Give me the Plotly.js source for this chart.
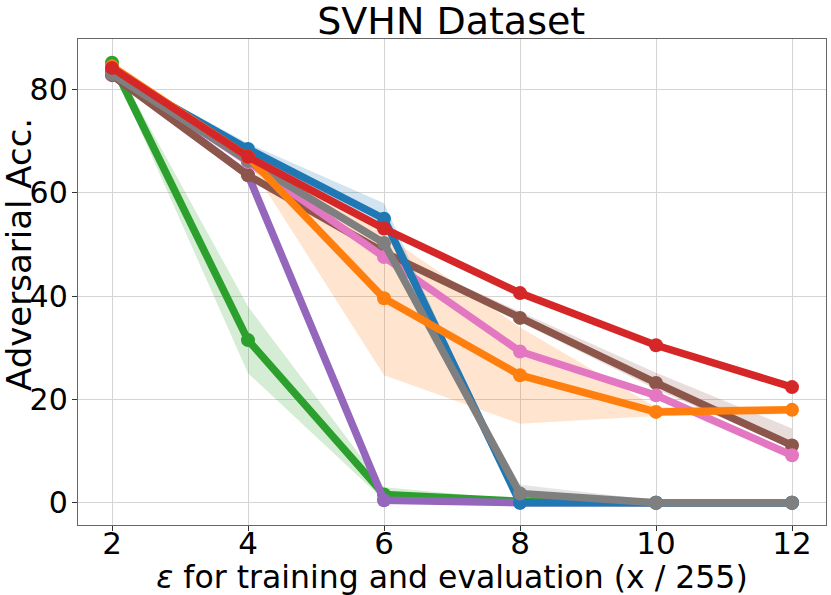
<!DOCTYPE html>
<html>
<head>
<meta charset="utf-8">
<script src="https://cdn.plot.ly/plotly-3.0.1.min.js"></script>
<style>
  html, body { margin: 0; padding: 0; background: #fff; }
  #chart { width: 831px; height: 595px; }
</style>
</head>
<body>
<div id="chart"></div>
<script>
// epsilon values (x / 255)
const eps = [2, 4, 6, 8, 10, 12];

// mean adversarial accuracy per method
const blueAcc   = [83.3, 68.5, 55.0, 0.0, 0.0, 0.0];
const orangeAcc = [84.5, 67.0, 39.6, 24.7, 17.6, 18.0];
const greenAcc  = [85.2, 31.5, 1.6, 0.3, 0.0, 0.0];
const redAcc    = [84.2, 67.0, 53.1, 40.6, 30.5, 22.4];
const purpleAcc = [83.0, 63.5, 0.5, 0.0, 0.0, 0.0];
const brownAcc  = [82.8, 63.4, 48.5, 35.8, 23.2, 11.1];
const pinkAcc   = [83.5, 66.0, 47.6, 29.3, 20.8, 9.2];
const grayAcc   = [83.0, 66.2, 50.3, 1.8, 0.0, 0.0];

// shaded band bounds (lower / upper)
const blueLo   = [82.8, 67.5, 53.0, 0.0, 0.0, 0.0];
const blueHi   = [83.8, 69.6, 58.0, 0.3, 0.0, 0.0];
const orangeLo = [84.0, 66.0, 24.7, 15.3, 16.8, 17.2];
const orangeHi = [85.0, 68.0, 52.0, 34.0, 18.5, 18.8];
const greenLo  = [84.5, 25.1, 0.5, 0.0, 0.0, 0.0];
const greenHi  = [86.0, 38.0, 3.0, 0.6, 0.0, 0.0];
const redLo    = [83.8, 66.5, 52.6, 40.1, 30.0, 21.9];
const redHi    = [84.6, 67.5, 53.6, 41.1, 31.0, 22.9];
const purpleLo = [82.6, 63.0, 0.2, 0.0, 0.0, 0.0];
const purpleHi = [83.4, 64.0, 0.8, 0.2, 0.0, 0.0];
const brownLo  = [82.4, 63.0, 48.0, 35.0, 22.0, 10.5];
const brownHi  = [83.2, 63.8, 49.0, 37.0, 25.2, 14.4];
const pinkLo   = [83.1, 65.5, 47.1, 28.8, 20.3, 8.5];
const pinkHi   = [83.9, 66.5, 48.1, 29.8, 21.3, 10.0];
const grayLo   = [82.6, 65.7, 49.8, 1.0, 0.0, 0.0];
const grayHi   = [83.4, 66.7, 50.8, 3.5, 0.5, 0.0];

// drawing order, bottom to top
const series = [
   { name: 'green',  y: greenAcc,  lo: greenLo,  hi: greenHi,  color: '#2ca02c', fill: 'rgba(44,160,44,0.2)' },
   { name: 'purple', y: purpleAcc, lo: purpleLo, hi: purpleHi, color: '#9467bd', fill: 'rgba(148,103,189,0.2)' },
   { name: 'brown',  y: brownAcc,  lo: brownLo,  hi: brownHi,  color: '#8c564b', fill: 'rgba(140,86,75,0.2)' },
   { name: 'pink',   y: pinkAcc,   lo: pinkLo,   hi: pinkHi,   color: '#e377c2', fill: 'rgba(227,119,194,0.2)' },
   { name: 'blue',   y: blueAcc,   lo: blueLo,   hi: blueHi,   color: '#1f77b4', fill: 'rgba(31,119,180,0.2)' },
   { name: 'gray',   y: grayAcc,   lo: grayLo,   hi: grayHi,   color: '#7f7f7f', fill: 'rgba(127,127,127,0.2)' },
   { name: 'orange', y: orangeAcc, lo: orangeLo, hi: orangeHi, color: '#ff7f0e', fill: 'rgba(255,127,14,0.2)' },
   { name: 'red',    y: redAcc,    lo: redLo,    hi: redHi,    color: '#d62728', fill: 'rgba(214,39,40,0.2)' },
];

const traces = [];

// bands first, so every line sits above them
for (const s of series) {
   traces.push({
      x: eps, y: s.lo, mode: 'lines', line: { width: 0 },
      hoverinfo: 'skip', showlegend: false
   });
   traces.push({
      x: eps, y: s.hi, mode: 'lines', line: { width: 0 },
      fill: 'tonexty', fillcolor: s.fill,
      hoverinfo: 'skip', showlegend: false
   });
}

for (const s of series) {
   traces.push({
      name: s.name, x: eps, y: s.y,
      mode: 'lines+markers',
      line: { color: s.color, width: 7.5 },
      marker: { color: s.color, size: 14 },
      showlegend: false
   });
}

const font = 'DejaVu Sans, sans-serif';

const layout = {
   width: 831,
   height: 595,
   margin: { t: 39, b: 70, l: 78, r: 5 },
   paper_bgcolor: '#fff',
   plot_bgcolor: '#fff',
   font: { family: font, color: '#000' },
   title: {
      text: 'SVHN Dataset',
      font: { family: font, size: 38, color: '#000' },
      x: 0.543, xanchor: 'center', y: 0.966, yanchor: 'middle'
   },
   xaxis: {
      range: [1.5, 12.5],
      tickvals: eps,
      ticktext: eps.map(String),
      tickfont: { family: font, size: 31 },
      ticks: 'outside', ticklen: 5, tickcolor: '#333',
      ticklabelstandoff: -14,
      showgrid: true, gridcolor: '#d4d4d4', gridwidth: 1,
      zeroline: false,
      showline: true, mirror: true, linecolor: '#666', linewidth: 1.2,
      automargin: false,
      title: {
         text: '<i>ε</i> for training and evaluation (x / 255)',
         font: { family: font, size: 31.5 }, standoff: 10
      }
   },
   yaxis: {
      range: [-4.3, 89.8],
      tickvals: [0, 20, 40, 60, 80],
      tickfont: { family: font, size: 30 },
      ticks: 'outside', ticklen: 5, tickcolor: '#333',
      ticklabelstandoff: -2,
      showgrid: true, gridcolor: '#d4d4d4', gridwidth: 1,
      zeroline: false,
      showline: true, mirror: true, linecolor: '#666', linewidth: 1.2,
      automargin: false
   },
   annotations: [{
      // y axis label, placed by hand left of the tick labels
      text: 'Adversarial Acc.',
      font: { family: font, size: 34, color: '#000' },
      textangle: -90,
      xref: 'paper', yref: 'paper',
      x: -59 / 748, y: (525 - 255) / 486,
      xanchor: 'center', yanchor: 'middle',
      showarrow: false
   }]
};

Plotly.newPlot('chart', traces, layout, { displayModeBar: false, staticPlot: true });
</script>
</body>
</html>
